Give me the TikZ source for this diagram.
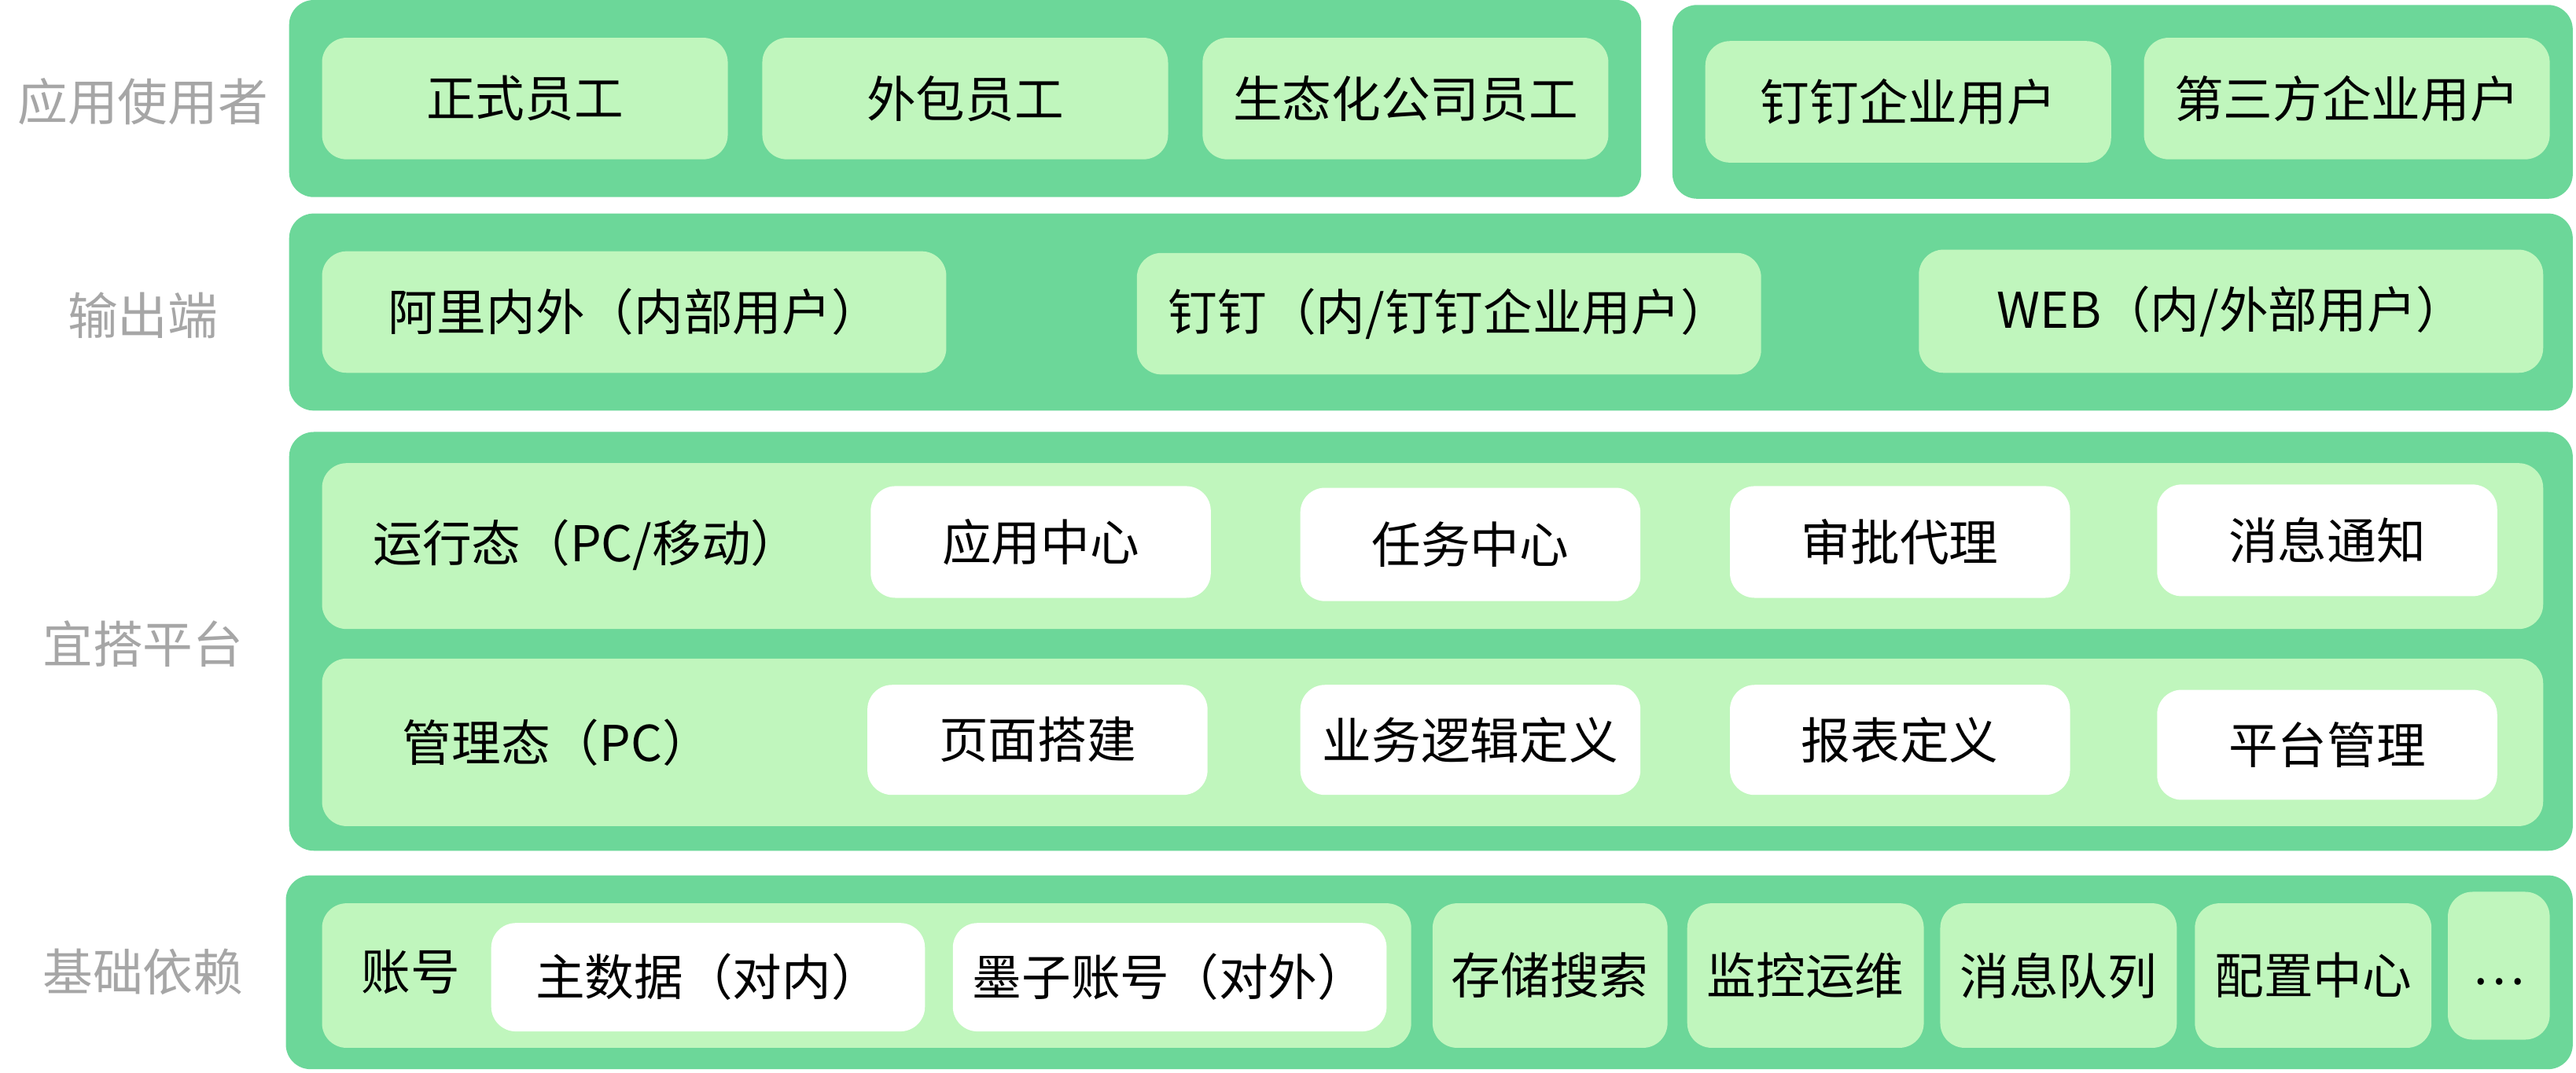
\documentclass[tikz,border=0pt]{standalone}
\usepackage{fontspec}
\setmainfont{Noto Sans CJK SC}
\definecolor{outerg}{HTML}{6CD799}
\definecolor{innerg}{HTML}{C0F6BD}
\definecolor{lblgray}{HTML}{A6A6A6}
\newcommand{\bx}[7]{\node[#2, minimum width=#5pt, minimum height=#6pt] (#1) at (#3,#4) {#7};}
\tikzset{
  outerbox/.style={fill=outerg, rounded corners=15pt, inner sep=0pt},
  innerbox/.style={fill=innerg, rounded corners=15pt, inner sep=0pt, font=\fontsize{30}{33}\selectfont},
  whitebox/.style={fill=white, rounded corners=15pt, inner sep=0pt, font=\fontsize{30}{33}\selectfont},
  plaintext/.style={inner sep=0pt, font=\fontsize{30}{33}\selectfont},
  layerlabel/.style={inner sep=0pt, text=lblgray, font=\fontsize{30.5}{33}\selectfont},
}
\begin{document}
\begin{tikzpicture}[x=1pt,y=-1pt]
\useasboundingbox (0,0) rectangle (1568,653);
% layer labels
\node[layerlabel] (l1) at (87,62) {应用使用者};
\node[layerlabel] (l2) at (87,192) {输出端};
\node[layerlabel] (l3) at (87,392) {宜搭平台};
\node[layerlabel] (l4) at (87,592) {基础依赖};
% row 1
\bx{u1}{outerbox}{587.5}{60}{823}{120}{}
\bx{u2}{outerbox}{1292}{62}{548}{118}{}
\bx{a1}{innerbox}{319.5}{60}{247}{74}{正式员工}
\bx{a2}{innerbox}{587.5}{60}{247}{74}{外包员工}
\bx{a3}{innerbox}{855.5}{60}{247}{74}{生态化公司员工}
\bx{a4}{innerbox}{1161.5}{62}{247}{74}{钉钉企业用户}
\bx{a5}{innerbox}{1428.5}{60}{247}{74}{第三方企业用户}
% row 2
\bx{o}{outerbox}{871}{190}{1390}{120}{}
\bx{b1}{innerbox}{386}{190}{380}{74}{阿里内外（内部用户）}
\bx{b2}{innerbox}{882}{191}{380}{74}{钉钉（内/钉钉企业用户）}
\bx{b3}{innerbox}{1358}{189.5}{380}{75}{WEB（内/外部用户）}
% row 3
\bx{p}{outerbox}{871}{390.5}{1390}{255}{}
\bx{pr}{innerbox}{872}{332.5}{1352}{101}{}
\bx{pm}{innerbox}{872}{452}{1352}{102}{}
\node[plaintext] (prt) at (357,332) {运行态（PC/移动）};
\node[plaintext] (pmt) at (339,452) {管理态（PC）};
\bx{c1}{whitebox}{633.5}{330}{207}{68}{应用中心}
\bx{c2}{whitebox}{895}{331.5}{207}{69}{任务中心}
\bx{c3}{whitebox}{1156.5}{330}{207}{68}{审批代理}
\bx{c4}{whitebox}{1416.5}{329}{207}{68}{消息通知}
\bx{d1}{whitebox}{631.5}{450.5}{207}{67}{页面搭建}
\bx{d2}{whitebox}{895}{450.5}{207}{67}{业务逻辑定义}
\bx{d3}{whitebox}{1156.5}{450.5}{207}{67}{报表定义}
\bx{d4}{whitebox}{1416.5}{453.5}{207}{67}{平台管理}
% row 4
\bx{f}{outerbox}{870}{592}{1392}{118}{}
\bx{acc}{innerbox}{527.5}{594}{663}{88}{}
\node[plaintext] (acct) at (250,592) {账号};
\bx{e1}{whitebox}{431}{595}{264}{66}{主数据（对内）}
\bx{e2}{whitebox}{712}{595}{264}{66}{墨子账号（对外）}
\bx{g1}{innerbox}{943.5}{594}{143}{88}{存储搜索}
\bx{g2}{innerbox}{1099}{594}{144}{88}{监控运维}
\bx{g3}{innerbox}{1253}{594}{144}{88}{消息队列}
\bx{g4}{innerbox}{1408}{594}{144}{88}{配置中心}
\bx{g5}{innerbox}{1521}{588}{62}{90}{}
\node[plaintext] (g5t) at (1521,598) {…};
\end{tikzpicture}
\end{document}
